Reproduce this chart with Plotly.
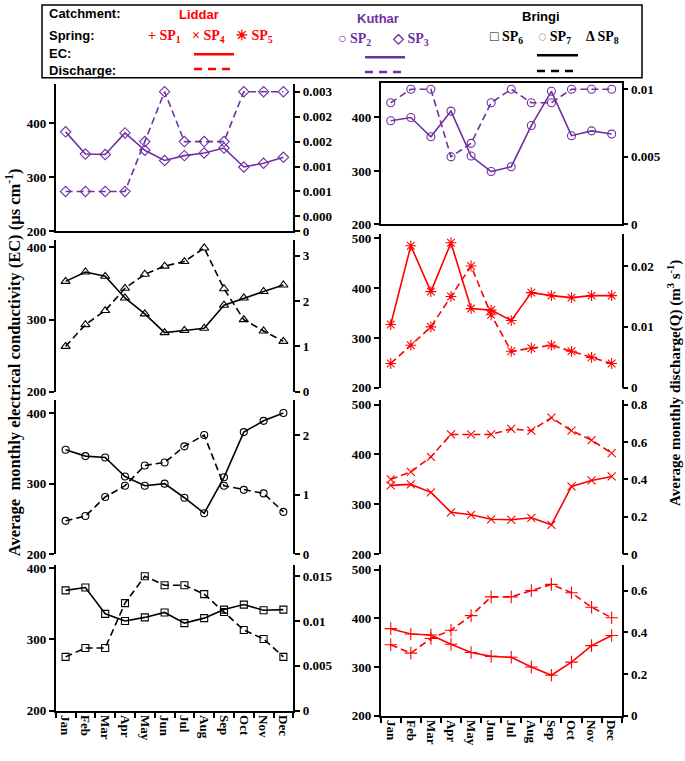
import plotly.graph_objects as go

W, H = 685, 761

months = ["Jan", "Feb", "Mar", "Apr", "May", "Jun", "Jul", "Aug", "Sep", "Oct", "Nov", "Dec"]

# Kuthar
sp3_ec = [384, 343, 342, 382, 350, 331, 340, 345, 354, 319, 326, 337]
sp3_q = [0.0008, 0.0008, 0.0008, 0.0008, 0.0018, 0.0028, 0.0018, 0.0018, 0.0018, 0.0028, 0.0028, 0.0028]
sp2_ec = [394, 400, 364, 412, 328, 299, 308, 385, 449, 366, 375, 369]
sp2_q = [0.009, 0.010, 0.010, 0.005, 0.006, 0.009, 0.010, 0.009, 0.009, 0.010, 0.010, 0.010]
# Bringi
sp8_ec = [353, 366, 360, 330, 308, 282, 285, 288, 320, 330, 339, 348]
sp8_q = [1.0, 1.48, 1.79, 2.28, 2.59, 2.77, 2.87, 3.17, 2.27, 1.59, 1.34, 1.11]
sp7_ec = [348, 339, 337, 310, 297, 300, 280, 258, 309, 373, 389, 400]
sp7_q = [0.56, 0.64, 0.96, 1.15, 1.49, 1.54, 1.81, 2.0, 1.15, 1.08, 1.02, 0.71]
sp6_ec = [369, 373, 336, 326, 331, 338, 323, 330, 342, 349, 341, 342]
sp6_q = [0.006, 0.007, 0.007, 0.012, 0.015, 0.014, 0.014, 0.013, 0.011, 0.009, 0.008, 0.006]
# Liddar
sp5_ec = [327, 485, 393, 491, 359, 356, 335, 391, 385, 381, 385, 385]
sp5_q = [0.004, 0.007, 0.010, 0.015, 0.020, 0.012, 0.006, 0.0065, 0.007, 0.006, 0.005, 0.004]
sp4_ec = [338, 340, 324, 284, 279, 270, 269, 273, 259, 336, 348, 356]
sp4_q = [0.40, 0.44, 0.52, 0.64, 0.64, 0.64, 0.67, 0.66, 0.73, 0.66, 0.61, 0.54]
sp1_ec = [379, 368, 366, 347, 330, 322, 320, 300, 283, 310, 344, 365]
sp1_q = [0.34, 0.30, 0.37, 0.41, 0.48, 0.57, 0.57, 0.60, 0.63, 0.59, 0.52, 0.47]

lp1_q_ticks = [0, 0.0003, 0.0008, 0.0013, 0.0018, 0.0023, 0.0028]
lp1_q_text = ["0", "0.000", "0.001", "0.001", "0.002", "0.002", "0.003"]

PURPLE = "#7030A0"
RED = "#FF0000"
BLACK = "#000000"

def fx(p):
    return p / W

def fy(p):
    return 1 - p / H

LEFT_X = (55.7, 293.3)
RIGHT_X = (380.7, 621.7)

panels = [
    (LEFT_X, 81, 231, sp3_ec, sp3_q, PURPLE, "diamond-open", 8, [200, 473], [0, 0.00296], "first"),
    (RIGHT_X, 80, 224, sp2_ec, sp2_q, PURPLE, "circle-open", 8, [200, 465], [0, 0.01048], "first"),
    (LEFT_X, 240, 394, sp8_ec, sp8_q, BLACK, "triangle-up-open", 8, [200, 410], [0, 3.34], "mid"),
    (RIGHT_X, 234, 390, sp5_ec, sp5_q, RED, "asterisk-open", 9, [200, 508], [0, 0.0252], "mid"),
    (LEFT_X, 402, 559, sp7_ec, sp7_q, BLACK, "circle-open", 7, [200, 419], [0, 2.594], "mid"),
    (RIGHT_X, 402, 559, sp4_ec, sp4_q, RED, "x-thin-open", 8, [200, 510], [0, 0.826], "mid"),
    (LEFT_X, 570, 718, sp6_ec, sp6_q, BLACK, "square-open", 7, [200, 404.6], [0, 0.01625], "last"),
    (RIGHT_X, 570, 723, sp1_ec, sp1_q, RED, "cross-thin-open", 9, [200, 510], [0, 0.723], "last"),
]

tickfont = dict(family="Liberation Serif", size=13, color="black", weight="bold")

fig = go.Figure()
layout = {}
for i, (cx, top, bot, ec, q, col, sym, msz, yl, yr, pos) in enumerate(panels, start=1):
    xa = f"x{i}"
    yla = f"y{i}"
    yra = f"y{i + 8}"
    fig.add_trace(go.Scatter(
        x=months, y=ec, xaxis=xa, yaxis=yla, mode="lines+markers",
        line=dict(color=col, width=1.6),
        marker=dict(symbol=sym, size=msz, color=col, line=dict(color=col, width=1.1)),
        showlegend=False))
    fig.add_trace(go.Scatter(
        x=months, y=q, xaxis=xa, yaxis=yra, mode="lines+markers",
        line=dict(color=col, width=1.6, dash="7px,4px"),
        marker=dict(symbol=sym, size=msz, color=col, line=dict(color=col, width=1.1)),
        showlegend=False))
    xdict = dict(domain=[fx(cx[0]), fx(cx[1])], anchor=yla, type="category",
                 range=[-0.5, 11.5], showgrid=False, zeroline=False,
                 linecolor="black", linewidth=1.5)
    if pos == "last":
        xdict.update(showline=True, ticks="outside", ticklen=6, tickwidth=1.5,
                     tickcolor="black", tickson="boundaries", tickangle=90,
                     tickfont=tickfont, showticklabels=True)
    elif pos == "first":
        xdict.update(showline=True, ticks="", showticklabels=False,
                     mirror=(cx == RIGHT_X))
    else:
        xdict.update(showline=False, ticks="", showticklabels=False)
    layout[f"xaxis{i}"] = xdict
    layout[f"yaxis{i}"] = dict(domain=[fy(bot), fy(top)], anchor=xa, range=yl,
                               dtick=100, tick0=0, showgrid=False, zeroline=False,
                               showline=True, linecolor="black", linewidth=1.5,
                               ticks="outside", ticklen=5, tickwidth=1.5, tickcolor="black",
                               tickfont=tickfont)
    rdict = dict(overlaying=yla, anchor=xa, side="right", range=yr,
                 showgrid=False, zeroline=False, showline=True, linecolor="black",
                 linewidth=1.5, ticks="outside", ticklen=5, tickwidth=1.5,
                 tickcolor="black", tickfont=tickfont)
    if i == 1:
        rdict.update(tickmode="array", tickvals=lp1_q_ticks, ticktext=lp1_q_text)
    layout[f"yaxis{i + 8}"] = rdict

fig.update_layout(**layout)

annotations = []
shapes = []

annotations.append(dict(x=fx(13), y=fy(364), xref="paper", yref="paper",
                        xanchor="center", yanchor="middle",
                        text="Average  monthly electrical conductivity (EC) (µs cm<sup>-1</sup>)",
                        textangle=-90, showarrow=False,
                        font=dict(family="Liberation Serif", size=16.5, color="black", weight="bold")))
annotations.append(dict(x=fx(675), y=fy(385), xref="paper", yref="paper",
                        xanchor="center", yanchor="middle",
                        text="Average monthly discharge(Q) (m<sup>3</sup> s<sup>-1</sup>)",
                        textangle=-90, showarrow=False,
                        font=dict(family="Liberation Serif", size=15, color="black", weight="bold")))

shapes.append(dict(type="rect", xref="paper", yref="paper", x0=fx(42), x1=fx(642),
                   y0=fy(75), y1=fy(1), line=dict(color="black", width=1.5),
                   fillcolor="white", layer="below"))

hdr = dict(family="Liberation Sans", size=13, color="black", weight="bold")
rows = [("Catchment:", 10), ("Spring:", 32), ("EC:", 50), ("Discharge:", 68)]
for txt, yy in rows:
    annotations.append(dict(x=fx(47), y=fy(yy), xref="paper", yref="paper", text=txt,
                            xanchor="left", yanchor="middle", showarrow=False, font=hdr))

for txt, xc, yy, col in [("Liddar", 199, 11, RED), ("Kuthar", 378, 15, PURPLE), ("Bringi", 541, 13, BLACK)]:
    f = dict(hdr)
    f["color"] = col
    annotations.append(dict(x=fx(xc), y=fy(yy), xref="paper", yref="paper", text=txt,
                            xanchor="center", yanchor="middle", showarrow=False, font=f))

sp_items = [
    ("+", "1", 146, 33, RED), ("×", "4", 190, 33, RED), ("✳", "5", 234, 33, RED),
    ("○", "2", 336, 36, PURPLE), ("◇", "3", 390, 36, PURPLE),
    ("□", "6", 488, 34, BLACK), ("◌", "7", 536, 34, BLACK), ("Δ", "8", 584, 34, BLACK),
]
for symb, sub, xl, yy, col in sp_items:
    annotations.append(dict(x=fx(xl), y=fy(yy), xref="paper", yref="paper",
                            text=f"{symb} SP<sub>{sub}</sub>", xanchor="left", yanchor="middle",
                            showarrow=False,
                            font=dict(family="Liberation Serif", size=14, color=col, weight="bold")))

for (x0, x1, y_ec, y_q, col) in [(194, 234, 51, 66, RED), (365, 405, 54, 69, PURPLE), (537, 578, 52, 68, BLACK)]:
    shapes.append(dict(type="line", xref="paper", yref="paper", x0=fx(x0), x1=fx(x1),
                       y0=fy(y_ec), y1=fy(y_ec), line=dict(color=col, width=2.5)))
    shapes.append(dict(type="line", xref="paper", yref="paper", x0=fx(x0), x1=fx(x1),
                       y0=fy(y_q), y1=fy(y_q), line=dict(color=col, width=2.5, dash="8px,6px")))

fig.update_layout(width=W, height=H, margin=dict(l=0, r=0, t=0, b=0),
                  paper_bgcolor="white", plot_bgcolor="white",
                  annotations=annotations, shapes=shapes, showlegend=False)

fig.write_html("out.html", config={"displayModeBar": False},
               post_script="document.body.style.margin='0px';")
